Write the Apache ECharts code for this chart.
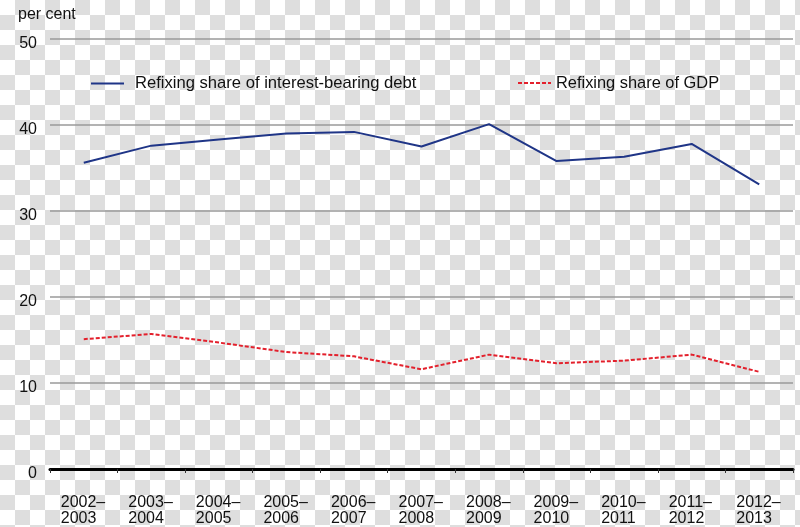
<!DOCTYPE html>
<html>
<head>
<meta charset="utf-8">
<style>
    html, body { margin: 0; padding: 0; }
    body {
        width: 800px; height: 527px;
        background-color: #fff;
        background-image: conic-gradient(#dedede 0 90deg, #fff 0 180deg, #dedede 0 270deg, #fff 0);
        background-size: 30px 30px;
    }
    #main { width: 800px; height: 527px; }
</style>
</head>
<body>
<div id="main"></div>
<script src="https://cdn.jsdelivr.net/npm/echarts@6/dist/echarts.min.js"></script>
<script type="text/javascript">
    var years = ['2002–2003', '2003–2004', '2004–2005', '2005–2006', '2006–2007', '2007–2008',
                 '2008–2009', '2009–2010', '2010–2011', '2011–2012', '2012–2013'];
    var debtShare = [35.6, 37.6, 38.3, 39.0, 39.2, 37.5, 40.1, 35.8, 36.3, 37.8, 33.1];
    var gdpShare = [15.1, 15.7, 14.7, 13.6, 13.1, 11.6, 13.3, 12.3, 12.6, 13.3, 11.3];
    var yTicks = [0, 10, 20, 30, 40, 50];

    var font = 'Liberation Sans, Arial, Helvetica, sans-serif';

    var chart = echarts.init(document.getElementById('main'), null, { renderer: 'canvas' });
    chart.setOption({
        backgroundColor: 'transparent',
        animation: false,
        title: {
            text: 'per cent',
            left: 13,
            top: 2,
            textStyle: { fontFamily: font, fontSize: 16, fontWeight: 'normal', color: '#111' }
        },
        legend: [
            {
                left: 85, top: 70,
                itemWidth: 33, itemHeight: 12,
                itemStyle: { opacity: 0 },
                data: ['Refixing share of interest-bearing debt'],
                textStyle: { fontFamily: font, fontSize: 16.6, color: '#111', padding: [0, 0, 0, 6] }
            },
            {
                left: 512, top: 70,
                itemWidth: 33, itemHeight: 12,
                itemStyle: { opacity: 0 },
                data: ['Refixing share of GDP'],
                textStyle: { fontFamily: font, fontSize: 16.4, color: '#111', padding: [0, 0, 0, 0] }
            }
        ],
        grid: { left: 50, right: 7, top: 39, bottom: 58, containLabel: false },
        xAxis: {
            type: 'category',
            data: years,
            boundaryGap: true,
            axisLine: { show: true, onZero: true, lineStyle: { color: '#000', width: 3 } },
            axisTick: { show: true, length: 4, lineStyle: { color: '#333', width: 1 } },
            axisLabel: {
                margin: 26,
                interval: 0,
                formatter: function (v) {
                    var p = v.split('–');
                    return '{a|' + p[0] + '–}\n{a|' + p[1] + '}';
                },
                rich: {
                    a: { fontFamily: font, fontSize: 16, color: '#111', width: 46, align: 'left', lineHeight: 16 }
                }
            }
        },
        yAxis: {
            type: 'value',
            min: yTicks[0],
            max: yTicks[yTicks.length - 1],
            interval: 10,
            axisLine: { show: false },
            axisTick: { show: false },
            axisLabel: {
                margin: 13,
                fontFamily: font, fontSize: 16, color: '#111',
                verticalAlign: 'top',
                lineHeight: 10
            },
            splitLine: { show: true, lineStyle: { color: '#9a9a9a', width: 1.5 } }
        },
        series: [
            {
                name: 'Refixing share of interest-bearing debt',
                type: 'line',
                data: debtShare,
                symbol: 'none',
                lineStyle: { color: '#1f3587', width: 2 },
                itemStyle: { color: '#1f3587' }
            },
            {
                name: 'Refixing share of GDP',
                type: 'line',
                data: gdpShare,
                symbol: 'none',
                lineStyle: { color: '#e3202c', width: 2, type: [4, 2] },
                itemStyle: { color: '#e3202c' }
            }
        ]
    });
</script>
</body>
</html>
